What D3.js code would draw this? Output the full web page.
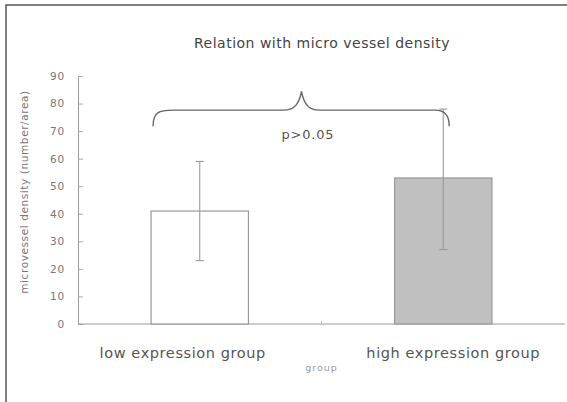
<!DOCTYPE html>
<html>
<head>
<meta charset="utf-8">
<script src="https://cdn.jsdelivr.net/npm/d3@7/dist/d3.min.js"></script>
<style>
  html, body { margin: 0; padding: 0; background: #fff; }
  svg { display: block; }
</style>
</head>
<body>
<svg id="chart" width="567" height="402"></svg>
<script>
// ---- data ----
const categories = ["low expression group", "high expression group"];
const means = [41, 53];
const errUpper = [59, 78];
const errLower = [23, 27];
const yTicks = [0, 10, 20, 30, 40, 50, 60, 70, 80, 90];
const titleText = "Relation with micro vessel density";
const yTitle = "microvessel density (number/area)";
const xTitle = "group";
const pText = "p>0.05";

// ---- layout ----
const svg = d3.select("#chart");
const plot = { left: 78, right: 565, top: 76, bottom: 324 };

const x = d3.scaleBand().domain(categories).range([plot.left, plot.right]).padding(0);
const y = d3.scaleLinear().domain([0, 90]).range([plot.bottom, plot.top]);
const barW = x.bandwidth() * 0.4;
const FONT = "DejaVu Sans, sans-serif";

// outer frame (top and left visible)
svg.append("rect")
  .attr("x", 6).attr("y", 5).attr("width", 700).attr("height", 600)
  .attr("fill", "none").attr("stroke", "#555").attr("stroke-width", 1.5);

// title
svg.append("text")
  .attr("x", 322).attr("y", 48)
  .attr("text-anchor", "middle")
  .attr("font-family", FONT)
  .attr("font-size", 14)
  .attr("letter-spacing", 0.5)
  .attr("fill", "#444")
  .text(titleText);

// y axis
const yAxis = d3.axisLeft(y).tickValues(yTicks).tickSize(-5).tickPadding(13);
const gy = svg.append("g").attr("transform", `translate(${plot.left},0)`).call(yAxis);
gy.select(".domain").attr("stroke", "#999");
gy.selectAll(".tick line").attr("stroke", "#aaa");
gy.selectAll(".tick text")
  .attr("font-family", FONT)
  .attr("font-size", 10.5)
  .attr("letter-spacing", 0.8)
  .attr("fill", "#777");

// y title
svg.append("text")
  .attr("transform", `translate(28,${(plot.top + plot.bottom) / 2 - 8}) rotate(-90)`)
  .attr("text-anchor", "middle")
  .attr("font-family", FONT)
  .attr("font-size", 10.5)
  .attr("letter-spacing", 0.6)
  .attr("fill", "#777")
  .text(yTitle);

// x axis line
svg.append("line")
  .attr("x1", plot.left).attr("x2", plot.right)
  .attr("y1", y(0)).attr("y2", y(0))
  .attr("stroke", "#999").attr("stroke-width", 1.2);
// boundary tick between groups
svg.append("line")
  .attr("x1", x(categories[1])).attr("x2", x(categories[1]))
  .attr("y1", y(0)).attr("y2", y(0) - 3)
  .attr("stroke", "#bbb");

// bars
const fills = ["#ffffff", "#c0c0c0"];
svg.selectAll("rect.bar")
  .data(categories)
  .enter().append("rect")
  .attr("class", "bar")
  .attr("x", d => x(d) + x.bandwidth() / 2 - barW / 2)
  .attr("width", barW)
  .attr("y", (d, i) => y(means[i]))
  .attr("height", (d, i) => y(0) - y(means[i]))
  .attr("fill", (d, i) => fills[i])
  .attr("stroke", "#999")
  .attr("stroke-width", 1.2);

// error bars
const cx = d => x(d) + x.bandwidth() / 2;
const eb = svg.append("g").attr("stroke", "#999").attr("stroke-width", 1.1);
categories.forEach((c, i) => {
  eb.append("line").attr("x1", cx(c)).attr("x2", cx(c))
    .attr("y1", y(errUpper[i])).attr("y2", y(errLower[i]));
  eb.append("line").attr("x1", cx(c) - 4).attr("x2", cx(c) + 4)
    .attr("y1", y(errUpper[i])).attr("y2", y(errUpper[i]));
  eb.append("line").attr("x1", cx(c) - 4).attr("x2", cx(c) + 4)
    .attr("y1", y(errLower[i])).attr("y2", y(errLower[i]));
});

// category labels
const labelShift = [-17, 10];
svg.selectAll("text.cat")
  .data(categories)
  .enter().append("text")
  .attr("class", "cat")
  .attr("x", (d, i) => cx(d) + labelShift[i])
  .attr("y", 358)
  .attr("text-anchor", "middle")
  .attr("font-family", FONT)
  .attr("font-size", 14.5)
  .attr("letter-spacing", 0.6)
  .attr("fill", "#555")
  .text(d => d);

// x title
svg.append("text")
  .attr("x", x(categories[1])).attr("y", 371)
  .attr("text-anchor", "middle")
  .attr("font-family", FONT)
  .attr("font-size", 9.5)
  .attr("letter-spacing", 1)
  .attr("fill", "#999")
  .text(xTitle);

// curly brace annotation
const bx0 = cx(categories[0]) - barW / 2 + 2;
const bx1 = cx(categories[1]) + 6;
const bMid = x(categories[1]) - 20;
const yl = y(77.6), yp = y(84.4), ye = y(71.8);
const path = d3.path();
path.moveTo(bx0, ye);
path.bezierCurveTo(bx0, yl + 2, bx0 + 6, yl, bx0 + 20, yl);
path.lineTo(bMid - 18, yl);
path.bezierCurveTo(bMid - 6, yl, bMid - 2, yl - 8, bMid, yp);
path.bezierCurveTo(bMid + 2, yl - 8, bMid + 6, yl, bMid + 18, yl);
path.lineTo(bx1 - 14, yl);
path.bezierCurveTo(bx1 - 4, yl, bx1, yl + 6, bx1, ye);
svg.append("path")
  .attr("d", path.toString())
  .attr("fill", "none")
  .attr("stroke", "#666")
  .attr("stroke-width", 1.4);

// p-value text
svg.append("text")
  .attr("x", 308).attr("y", 139)
  .attr("text-anchor", "middle")
  .attr("font-family", FONT)
  .attr("font-size", 13)
  .attr("letter-spacing", 0.8)
  .attr("fill", "#555")
  .text(pText);
</script>
</body>
</html>
